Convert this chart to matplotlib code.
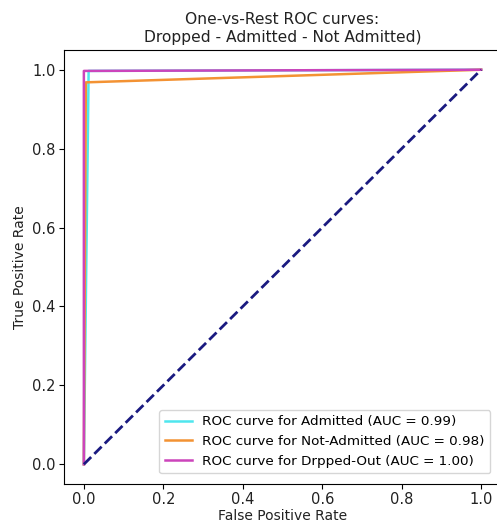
import matplotlib
matplotlib.use("Agg")
import matplotlib.pyplot as plt

classes = ["Admitted", "Not-Admitted", "Drpped-Out"]
auc_values = [0.99, 0.98, 1.00]
fpr_admitted = [0.0, 0.012, 1.0]
tpr_admitted = [0.0, 0.997, 1.0]
fpr_not_admitted = [0.0, 0.005, 1.0]
tpr_not_admitted = [0.0, 0.968, 1.0]
fpr_dropped = [0.0, 0.0, 1.0]
tpr_dropped = [0.0, 0.997, 1.0]
colors = ["#4fe6ee", "#f39233", "#cc44bb"]

fig = plt.figure(figsize=(4.97, 5.25), dpi=100)
ax = fig.add_axes([64/497, 41/525, 437/497, 434/525])

curves = [(fpr_admitted, tpr_admitted), (fpr_not_admitted, tpr_not_admitted), (fpr_dropped, tpr_dropped)]
for (f, t), name, auc, c in zip(curves, classes, auc_values, colors):
    ax.plot(f, t, color=c, lw=1.8, label=f"ROC curve for {name} (AUC = {auc:.2f})")

ax.plot([0, 1], [0, 1], color="#1a1a80", lw=2, linestyle="--")
ax.set_xlim(-0.05, 1.05)
ax.set_ylim(-0.05, 1.05)
ax.set_xlabel("False Positive Rate", fontsize=10, color="#222222", labelpad=1)
ax.set_ylabel("True Positive Rate", fontsize=10, color="#222222")
ax.tick_params(labelsize=10.5, labelcolor="#222222", pad=2.5)
ax.set_title("One-vs-Rest ROC curves:\nDropped - Admitted - Not Admitted)", fontsize=11.2, color="#222222")
ax.legend(loc="lower right", fontsize=9.7, borderaxespad=0.8)
fig.savefig("out.png", dpi=100)
